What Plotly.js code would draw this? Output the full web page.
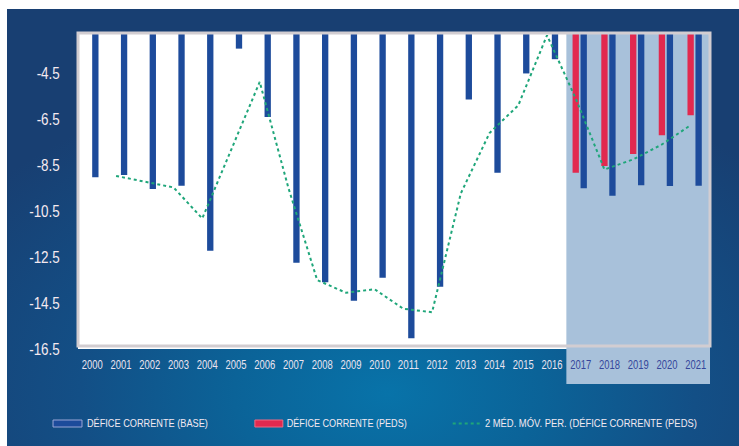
<!DOCTYPE html>
<html>
<head>
<meta charset="utf-8">
<script src="https://cdn.plot.ly/plotly-3.0.1.min.js"></script>
<style>
  html, body { margin: 0; padding: 0; background: #ffffff; }
  #wrap { position: relative; width: 739px; height: 446px; background: #ffffff; }
  #panel { position: absolute; left: 7px; top: 9px; width: 732px; height: 437px;
    background: radial-gradient(ellipse 70% 75% at 52% 88%, #0873a9 0%, #0b6398 30%, #134f86 60%, #183f72 100%); }
  #chart { position: absolute; left: 0; top: 0; width: 739px; height: 446px; }
</style>
</head>
<body>
<div id="wrap">
  <div id="panel"></div>
  <div id="chart"></div>
</div>
<script>
// ---- data ----
const years = [2000,2001,2002,2003,2004,2005,2006,2007,2008,2009,2010,2011,2012,2013,2014,2015,2016,2017,2018,2019,2020,2021];
const deficeBase = [-9.03,-8.93,-9.54,-9.40,-12.23,-3.43,-6.40,-12.75,-13.60,-14.40,-13.40,-16.03,-13.79,-5.64,-8.83,-4.51,-3.89,-9.51,-9.83,-9.37,-9.41,-9.40];
const deficePeds = [null,null,null,null,null,null,null,null,null,null,null,null,null,null,null,null,null,-8.83,-8.54,-8.02,-7.20,-6.33];
const mediaMovel = [null,-8.97,-9.23,-9.47,-10.82,-7.85,-4.88,-9.50,-13.50,-14.05,-13.90,-14.75,-14.90,-9.73,-7.10,-5.90,-2.85,-5.60,-8.69,-8.25,-7.60,-6.76];
const yTicks = [-4.5,-6.5,-8.5,-10.5,-12.5,-14.5,-16.5];
const forecastYears = [2017,2018,2019,2020,2021];
const legendLabels = ['DÉFICE CORRENTE (BASE)', 'DÉFICE CORRENTE (PEDS)', '2 MÉD. MÓV. PER. (DÉFICE CORRENTE (PEDS)'];

// ---- styling ----
const FONT = '"Liberation Sans", Arial, sans-serif';
const BLUE = '#1d4b9b', RED = '#e2294f', GREEN = '#1fa67a';
const barW = 0.22;
const redShift = -0.174, blueShift = 0.104;

const tickText = years.map(y => forecastYears.includes(y)
  ? '<span style="color:#35469b">' + y + '</span>' : String(y));

const traces = [
  { type: 'bar', x: years, y: deficeBase, width: barW, offset: blueShift - barW/2,
    marker: { color: BLUE }, name: legendLabels[0], hoverinfo: 'x+y' },
  { type: 'bar', x: years, y: deficePeds, width: barW, offset: redShift - barW/2,
    marker: { color: RED }, name: legendLabels[1], hoverinfo: 'x+y' },
  { type: 'scatter', mode: 'lines', x: years.map(y => y + redShift), y: mediaMovel,
    line: { color: GREEN, width: 2, dash: 'dot' }, connectgaps: false,
    name: legendLabels[2], hoverinfo: 'y' }
];

const H = 316, W = 632.5;
function px(xp) { return (xp - 78) / W; }
function py(yp) { return (349 - yp) / H; }

const shapes = [
  { type: 'rect', xref: 'x', yref: 'paper', x0: 2016.5, x1: 2021.5, y0: py(384), y1: 1,
    fillcolor: '#a8c1da', line: { width: 0 }, layer: 'below' },
  { type: 'rect', xref: 'paper', yref: 'paper', x0: 0, x1: 1, y0: py(346), y1: 1,
    fillcolor: 'rgba(0,0,0,0)', line: { color: '#d2cdd1', width: 3 }, layer: 'above' },
  { type: 'rect', xref: 'paper', yref: 'paper', x0: px(53), x1: px(82), y0: py(427), y1: py(420),
    fillcolor: BLUE, line: { color: '#9aa6d6', width: 1 } },
  { type: 'rect', xref: 'paper', yref: 'paper', x0: px(255), x1: px(283), y0: py(427), y1: py(420),
    fillcolor: RED, line: { color: '#f06a84', width: 1 } },
  { type: 'line', xref: 'paper', yref: 'paper', x0: px(453), x1: px(480), y0: py(423.5), y1: py(423.5),
    line: { color: GREEN, width: 2, dash: 'dot' } }
];

const legendCenter = [147.5, 347, 591];
const legendWidth = [121, 120, 212];
const annotations = legendLabels.map((t, i) => ({
  xref: 'paper', yref: 'paper', x: px(legendCenter[i]), y: py(423), xanchor: 'center', yanchor: 'middle',
  text: t, showarrow: false, font: { family: FONT, size: 11, color: '#f3e9f1' }
}));

const layout = {
  width: 739, height: 446,
  margin: { l: 78, r: 28.5, t: 33, b: 97 },
  paper_bgcolor: 'rgba(0,0,0,0)',
  plot_bgcolor: '#ffffff',
  showlegend: false,
  barmode: 'overlay',
  xaxis: {
    type: 'linear', range: [1999.5, 2021.5], tickvals: years, ticktext: tickText, tickangle: 0,
    showgrid: false, zeroline: false, showline: false, ticks: 'outside', ticklen: 0,
    ticklabelstandoff: 4,
    tickfont: { family: FONT, size: 12.5, color: '#ece4f0' }
  },
  yaxis: {
    range: [-16.5, -2.75], tickvals: yTicks, ticktext: yTicks.map(v => v.toFixed(1)),
    showgrid: false, zeroline: false, showline: false, ticks: 'outside', ticklen: 0,
    ticklabelstandoff: 14,
    tickfont: { family: FONT, size: 16, color: '#f5eaf0' }
  },
  shapes: shapes,
  annotations: annotations
};

// condense glyphs horizontally (reference uses a narrow typeface)
function squeeze(el, w) {
  el.setAttribute('textLength', w);
  el.setAttribute('lengthAdjust', 'spacingAndGlyphs');
}
Plotly.newPlot('chart', traces, layout, { staticPlot: true }).then(gd => {
  gd.querySelectorAll('.xtick text').forEach(t => squeeze(t, 21));
  gd.querySelectorAll('.ytick text').forEach(t => squeeze(t, t.getComputedTextLength() * 0.84));
  gd.querySelectorAll('.annotation-text').forEach((t, i) => squeeze(t, legendWidth[i]));
});
</script>
</body>
</html>
